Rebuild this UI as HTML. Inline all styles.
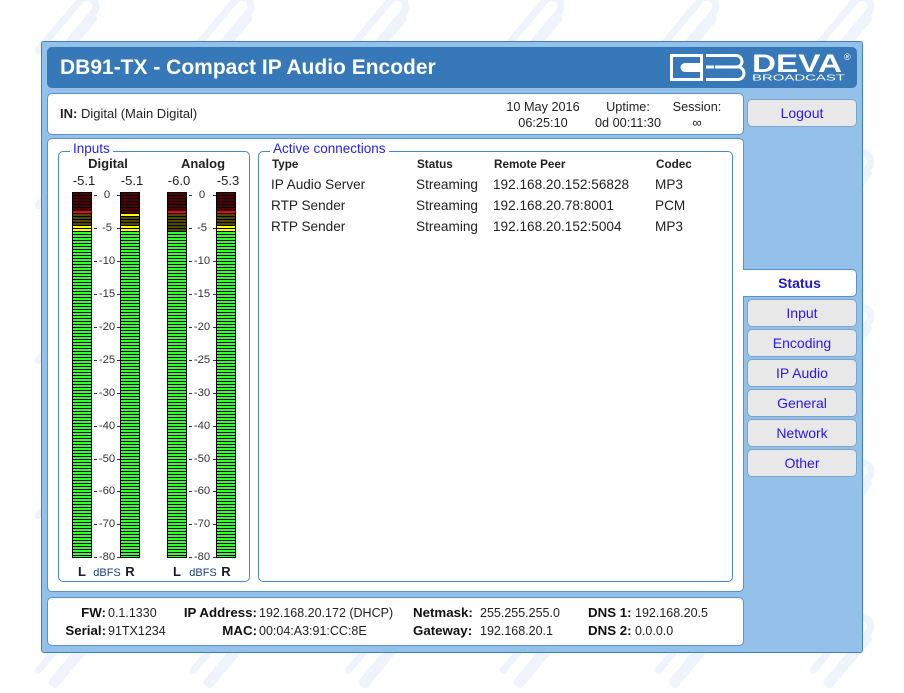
<!DOCTYPE html>
<html><head><meta charset="utf-8"><style>
*{margin:0;padding:0;box-sizing:border-box}
html,body{width:904px;height:693px;overflow:hidden;background:#fff;font-family:"Liberation Sans",Arial,sans-serif;color:#222}
.a{position:absolute}
.t{position:absolute;white-space:nowrap;line-height:16px;height:16px}
.c{text-align:center}
.b{font-weight:bold}
.btn{position:absolute;left:747px;width:110px;height:28px;background:#e8e8e8;border:1px solid #7fa3cc;border-radius:5px;color:#2a16f0;font-size:14px;line-height:26px;text-align:center}
.m{position:absolute;top:192px;width:20px;height:366px;background:#000}
.mi{position:absolute;left:1px;top:1px;right:1px;bottom:1px}
.st{position:absolute;left:0;top:0;right:0;bottom:0;background:repeating-linear-gradient(to bottom,rgba(0,0,0,0) 0,rgba(0,0,0,0) 2px,#000 2px,#000 3px)}
.sc{position:absolute;width:30px;text-align:center;font-size:11.3px;line-height:12px;height:12px;color:#333}
.dk{position:absolute;width:3px;height:1px;background:#333}
.fl{font-size:13.3px;font-weight:bold;color:#111}
.fv{font-size:12.5px;color:#222}
</style></head><body>

<svg class="a" style="left:0;top:0" width="904" height="693">
<defs>
<pattern id="wm" x="-10" y="-30" width="155" height="155" patternUnits="userSpaceOnUse">
<g transform="translate(80,55) rotate(-50)" fill="none" stroke="#eef3fc" stroke-width="7" stroke-linecap="round">
<path d="M-40,-8 H25 A9,9 0 0 1 25,10 H-40"/>
<path d="M-40,14 H20"/>
</g>
</pattern>
</defs>
<rect width="904" height="693" fill="url(#wm)"/>
</svg>

<!-- outer panel -->
<div class="a" style="left:41px;top:41px;width:822px;height:612px;background:#93c1ea;border:1px solid #3f7fc0;border-radius:3px"></div>

<!-- header -->
<div class="a" style="left:47px;top:47px;width:810px;height:41px;background:#3778b8;border-radius:5px"></div>
<div class="t b" style="left:60px;top:55px;height:26px;line-height:26px;font-size:21px;color:#fff">DB91-TX - Compact IP Audio Encoder</div>
<svg class="a" style="left:665px;top:50px" width="192" height="36">
<rect x="6.5" y="5.5" width="30" height="24" fill="none" stroke="#fff" stroke-width="3"/>
<path d="M20,13 H37 V22 H20 A4.5,4.5 0 0 1 20,13 Z" fill="#fff"/>
<path d="M41,5.5 H71 A6,6 0 0 1 77,11.5 A5.5,5.5 0 0 1 71,17 H50 M71,17 A6.5,6.5 0 0 1 79,23.5 A6,6 0 0 1 73,29.5 H41" fill="none" stroke="#fff" stroke-width="3"/>
<rect x="41" y="15.5" width="8" height="3" fill="#fff"/>
<text x="87" y="22" font-family="Liberation Sans,Arial,sans-serif" font-weight="bold" font-size="25" fill="#fff" textLength="90" lengthAdjust="spacingAndGlyphs">DEVA</text>
<text x="87" y="30.5" font-family="Liberation Sans,Arial,sans-serif" font-size="8" fill="#fff" textLength="93" lengthAdjust="spacingAndGlyphs">BROADCAST</text>
<text x="179" y="10" font-family="Liberation Sans,Arial,sans-serif" font-size="9" fill="#fff">®</text>
</svg>

<!-- info box -->
<div class="a" style="left:47px;top:93px;width:697px;height:42px;background:#fff;border:1px solid #5a93cc;border-radius:5px"></div>
<div class="t" style="left:60px;top:106px;font-size:13px"><b>IN:</b> Digital (Main Digital)</div>
<div class="t c" style="left:493px;width:100px;top:99px;font-size:12.7px">10 May 2016</div>
<div class="t c" style="left:493px;width:100px;top:115px;font-size:12.7px">06:25:10</div>
<div class="t c" style="left:578px;width:100px;top:99px;font-size:12.7px">Uptime:</div>
<div class="t c" style="left:578px;width:100px;top:115px;font-size:12.7px">0d 00:11:30</div>
<div class="t c" style="left:647px;width:100px;top:99px;font-size:12.7px">Session:</div>
<div class="t c" style="left:647px;width:100px;top:115px;font-size:13px">∞</div>

<div class="btn" style="top:99px">Logout</div>

<!-- main panel -->
<div class="a" style="left:47px;top:138px;width:697px;height:454px;background:#fff;border:1px solid #5a93cc;border-radius:5px"></div>

<!-- status tab -->
<div class="a" style="left:743px;top:269px;width:114px;height:28px;background:#fff;border:1px solid #5a93cc;border-left:none;border-radius:0 5px 5px 0;color:#1d18c8;font-size:14px;font-weight:bold;line-height:26px;text-align:center">Status</div>
<div class="btn" style="top:299px">Input</div>
<div class="btn" style="top:329px">Encoding</div>
<div class="btn" style="top:359px">IP Audio</div>
<div class="btn" style="top:389px">General</div>
<div class="btn" style="top:419px">Network</div>
<div class="btn" style="top:449px">Other</div>

<!-- fieldsets -->
<div class="a" style="left:58px;top:151px;width:192px;height:431px;border:1px solid #4a86c4;border-radius:5px"></div>
<div class="t" style="left:70px;top:141px;padding:0 3px;background:#fff;font-size:13.5px;color:#2323ee">Inputs</div>
<div class="a" style="left:258px;top:151px;width:475px;height:431px;border:1px solid #4a86c4;border-radius:5px"></div>
<div class="t" style="left:270px;top:141px;padding:0 3px;background:#fff;font-size:13.5px;color:#2323ee">Active connections</div>

<!-- inputs headings -->
<div class="t c b" style="left:58px;width:100px;top:156px;font-size:13px">Digital</div>
<div class="t c b" style="left:153px;width:100px;top:156px;font-size:13px">Analog</div>
<div class="t c" style="left:54px;width:60px;top:173px;font-size:13px">-5.1</div>
<div class="t c" style="left:102px;width:60px;top:173px;font-size:13px">-5.1</div>
<div class="t c" style="left:149px;width:60px;top:173px;font-size:13px">-6.0</div>
<div class="t c" style="left:198px;width:60px;top:173px;font-size:13px">-5.3</div>

<!-- meters -->
<div class="m" style="left:72px"><div class="mi" style="background:linear-gradient(to bottom,#500000 0,#500000 18px,#ff0000 18px,#ff0000 21px,#4f4a00 21px,#4f4a00 33px,#ffff00 33px,#ffff00 39px,#33ff33 39px)"><div class="st"></div></div></div>
<div class="m" style="left:120px"><div class="mi" style="background:linear-gradient(to bottom,#500000 0,#500000 21px,#ffff00 21px,#ffff00 24px,#4f4a00 24px,#4f4a00 33px,#ffff00 33px,#ffff00 39px,#33ff33 39px)"><div class="st"></div></div></div>
<div class="m" style="left:167px"><div class="mi" style="background:linear-gradient(to bottom,#500000 0,#500000 18px,#ff0000 18px,#ff0000 21px,#4f4a00 21px,#4f4a00 39px,#33ff33 39px)"><div class="st"></div></div></div>
<div class="m" style="left:216px"><div class="mi" style="background:linear-gradient(to bottom,#500000 0,#500000 18px,#ff0000 18px,#ff0000 21px,#4f4a00 21px,#4f4a00 33px,#ffff00 33px,#ffff00 39px,#33ff33 39px)"><div class="st"></div></div></div>

<!-- scales -->
<div class="sc" style="left:92px;top:189px">0</div><div class="sc" style="left:187px;top:189px">0</div>
<div class="sc" style="left:92px;top:222px">-5</div><div class="sc" style="left:187px;top:222px">-5</div>
<div class="sc" style="left:92px;top:255px">-10</div><div class="sc" style="left:187px;top:255px">-10</div>
<div class="sc" style="left:92px;top:288px">-15</div><div class="sc" style="left:187px;top:288px">-15</div>
<div class="sc" style="left:92px;top:321px">-20</div><div class="sc" style="left:187px;top:321px">-20</div>
<div class="sc" style="left:92px;top:354px">-25</div><div class="sc" style="left:187px;top:354px">-25</div>
<div class="sc" style="left:92px;top:387px">-30</div><div class="sc" style="left:187px;top:387px">-30</div>
<div class="sc" style="left:92px;top:420px">-40</div><div class="sc" style="left:187px;top:420px">-40</div>
<div class="sc" style="left:92px;top:453px">-50</div><div class="sc" style="left:187px;top:453px">-50</div>
<div class="sc" style="left:92px;top:485px">-60</div><div class="sc" style="left:187px;top:485px">-60</div>
<div class="sc" style="left:92px;top:518px">-70</div><div class="sc" style="left:187px;top:518px">-70</div>
<div class="sc" style="left:92px;top:551px">-80</div><div class="sc" style="left:187px;top:551px">-80</div>

<div class="dk" style="left:94px;top:195px"></div><div class="dk" style="left:117px;top:195px"></div><div class="dk" style="left:189px;top:195px"></div><div class="dk" style="left:213px;top:195px"></div>
<div class="dk" style="left:94px;top:228px"></div><div class="dk" style="left:117px;top:228px"></div><div class="dk" style="left:189px;top:228px"></div><div class="dk" style="left:213px;top:228px"></div>
<div class="dk" style="left:94px;top:261px"></div><div class="dk" style="left:117px;top:261px"></div><div class="dk" style="left:189px;top:261px"></div><div class="dk" style="left:213px;top:261px"></div>
<div class="dk" style="left:94px;top:294px"></div><div class="dk" style="left:117px;top:294px"></div><div class="dk" style="left:189px;top:294px"></div><div class="dk" style="left:213px;top:294px"></div>
<div class="dk" style="left:94px;top:327px"></div><div class="dk" style="left:117px;top:327px"></div><div class="dk" style="left:189px;top:327px"></div><div class="dk" style="left:213px;top:327px"></div>
<div class="dk" style="left:94px;top:360px"></div><div class="dk" style="left:117px;top:360px"></div><div class="dk" style="left:189px;top:360px"></div><div class="dk" style="left:213px;top:360px"></div>
<div class="dk" style="left:94px;top:393px"></div><div class="dk" style="left:117px;top:393px"></div><div class="dk" style="left:189px;top:393px"></div><div class="dk" style="left:213px;top:393px"></div>
<div class="dk" style="left:94px;top:426px"></div><div class="dk" style="left:117px;top:426px"></div><div class="dk" style="left:189px;top:426px"></div><div class="dk" style="left:213px;top:426px"></div>
<div class="dk" style="left:94px;top:459px"></div><div class="dk" style="left:117px;top:459px"></div><div class="dk" style="left:189px;top:459px"></div><div class="dk" style="left:213px;top:459px"></div>
<div class="dk" style="left:94px;top:491px"></div><div class="dk" style="left:117px;top:491px"></div><div class="dk" style="left:189px;top:491px"></div><div class="dk" style="left:213px;top:491px"></div>
<div class="dk" style="left:94px;top:524px"></div><div class="dk" style="left:117px;top:524px"></div><div class="dk" style="left:189px;top:524px"></div><div class="dk" style="left:213px;top:524px"></div>
<div class="dk" style="left:94px;top:557px"></div><div class="dk" style="left:117px;top:557px"></div><div class="dk" style="left:189px;top:557px"></div><div class="dk" style="left:213px;top:557px"></div>

<div class="t c b" style="left:72px;width:20px;top:564px;font-size:13px;color:#1a1a2e">L</div>
<div class="t c" style="left:92px;width:30px;top:565px;font-size:11px;color:#22407a">dBFS</div>
<div class="t c b" style="left:120px;width:20px;top:564px;font-size:13px;color:#1a1a2e">R</div>
<div class="t c b" style="left:167px;width:20px;top:564px;font-size:13px;color:#1a1a2e">L</div>
<div class="t c" style="left:188px;width:30px;top:565px;font-size:11px;color:#22407a">dBFS</div>
<div class="t c b" style="left:216px;width:20px;top:564px;font-size:13px;color:#1a1a2e">R</div>

<!-- connections table -->
<div class="t b" style="left:272px;top:157px;font-size:11.7px">Type</div>
<div class="t b" style="left:417px;top:157px;font-size:11.7px">Status</div>
<div class="t b" style="left:494px;top:157px;font-size:11.7px">Remote Peer</div>
<div class="t b" style="left:656px;top:157px;font-size:11.7px">Codec</div>

<div class="t" style="left:271px;top:177px;font-size:13.6px">IP Audio Server</div>
<div class="t" style="left:416px;top:177px;font-size:13.6px">Streaming</div>
<div class="t" style="left:493px;top:177px;font-size:13.6px">192.168.20.152:56828</div>
<div class="t" style="left:655px;top:177px;font-size:13.6px">MP3</div>

<div class="t" style="left:271px;top:198px;font-size:13.6px">RTP Sender</div>
<div class="t" style="left:416px;top:198px;font-size:13.6px">Streaming</div>
<div class="t" style="left:493px;top:198px;font-size:13.6px">192.168.20.78:8001</div>
<div class="t" style="left:655px;top:198px;font-size:13.6px">PCM</div>

<div class="t" style="left:271px;top:219px;font-size:13.6px">RTP Sender</div>
<div class="t" style="left:416px;top:219px;font-size:13.6px">Streaming</div>
<div class="t" style="left:493px;top:219px;font-size:13.6px">192.168.20.152:5004</div>
<div class="t" style="left:655px;top:219px;font-size:13.6px">MP3</div>

<!-- footer -->
<div class="a" style="left:47px;top:597px;width:697px;height:49px;background:#fff;border:1px solid #5a93cc;border-radius:5px"></div>
<div class="t fl" style="left:6px;width:100px;text-align:right;top:605px">FW:</div>
<div class="t fv" style="left:108px;top:605px">0.1.1330</div>
<div class="t fl" style="left:6px;width:100px;text-align:right;top:623px">Serial:</div>
<div class="t fv" style="left:108px;top:623px">91TX1234</div>
<div class="t fl" style="left:157px;width:100px;text-align:right;top:605px">IP Address:</div>
<div class="t fv" style="left:259px;top:605px">192.168.20.172 (DHCP)</div>
<div class="t fl" style="left:157px;width:100px;text-align:right;top:623px">MAC:</div>
<div class="t fv" style="left:259px;top:623px">00:04:A3:91:CC:8E</div>
<div class="t fl" style="left:413px;top:605px">Netmask:</div>
<div class="t fv" style="left:480px;top:605px">255.255.255.0</div>
<div class="t fl" style="left:413px;top:623px">Gateway:</div>
<div class="t fv" style="left:480px;top:623px">192.168.20.1</div>
<div class="t fl" style="left:588px;top:605px">DNS 1:</div>
<div class="t fv" style="left:635px;top:605px">192.168.20.5</div>
<div class="t fl" style="left:588px;top:623px">DNS 2:</div>
<div class="t fv" style="left:635px;top:623px">0.0.0.0</div>

</body></html>
